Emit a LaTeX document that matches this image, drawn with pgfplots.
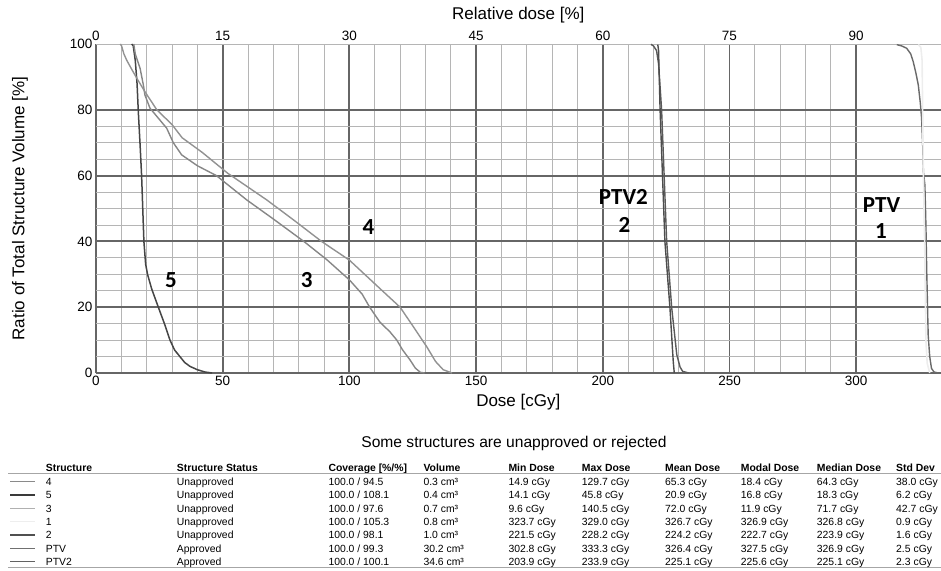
\documentclass[border=0pt]{standalone}
\usepackage{fontspec}
\setmainfont{Liberation Sans}
\newfontfamily\lblfont{Carlito}
\usepackage{pgfplots}
\pgfplotsset{compat=1.18}

\definecolor{majgrid}{HTML}{666666}
\definecolor{mingrid}{HTML}{B5B5B5}
\definecolor{cthree}{HTML}{929292}
\definecolor{cfour}{HTML}{878787}
\definecolor{cfive}{HTML}{454545}
\definecolor{ctwo}{HTML}{4D4D4D}
\definecolor{cptvtwo}{HTML}{5A5A5A}
\definecolor{cptv}{HTML}{6A6A6A}
\definecolor{cone}{HTML}{EDEDED}
% legend swatches in the table
\definecolor{lfour}{HTML}{8A8A8A}
\definecolor{lfive}{HTML}{3A3A3A}
\definecolor{lthree}{HTML}{B0B0B0}
\definecolor{lone}{HTML}{EEEEEE}
\definecolor{ltwo}{HTML}{505050}
\definecolor{lptv}{HTML}{707070}
\definecolor{lptvtwo}{HTML}{626262}

\begin{document}
\begin{tikzpicture}[x=1pt,y=1pt]
\useasboundingbox (0,0) rectangle (941,570);

% main DVH axis (dose in cGy)
\begin{axis}[
  at={(96pt,197pt)}, anchor=south west,
  scale only axis, width=844.6pt, height=329pt,
  xmin=0, xmax=333.3, ymin=0, ymax=100,
  xtick={0,50,...,300}, ytick={0,20,...,80},
  extra y ticks={100},
  extra y tick style={major grid style={mingrid, line width=0.9pt}},
  minor x tick num=4, minor y tick num=3,
  grid=both,
  major grid style={majgrid, line width=1.9pt},
  minor grid style={mingrid, line width=0.8pt},
  major tick length=0pt, minor tick length=0pt,
  axis line style={draw=none},
  tick label style={font=\fontsize{13.5}{15}\selectfont},
  /pgf/number format/assume math mode=true,
  xlabel={Dose [cGy]}, ylabel={Ratio of Total Structure Volume [\%]},
  label style={font=\fontsize{17}{20}\selectfont},
  xlabel style={at={(axis description cs:0.5,-0.087)}, anchor=center},
  ylabel style={at={(axis description cs:-0.09,0.5)}, anchor=center},
  clip=false,
]
% structure 5
\addplot[cfive, line width=1.5pt] coordinates {(14.1,100)(14.7,99.4)(15.5,95)(16.2,88)(16.7,79.4)(17.4,69.3)(18,60)(18.9,40)(19.6,33)(20.4,29.8)(22,25.5)(24.6,20)(27,15)(29.2,10)(31,7)(33.1,5)(35,3.2)(37.1,2)(40,1)(43,0.3)(45.8,0)};
% structure 4
\addplot[cfour, line width=1.4pt] coordinates {(14.9,100)(15.5,97)(17.4,92.6)(18.7,87.5)(19.3,84.5)(21.3,80.5)(27.9,74.4)(30.5,70)(33.8,66.3)(40,63)(47.5,60)(59.5,52.6)(70,46.8)(82,40)(91,34.5)(100,28.3)(105,24)(108,20)(112,15.5)(116,12.5)(118.7,10)(121,7)(123.9,4)(126,1.5)(128,0.2)(129.7,0)};
% structure 3
\addplot[cthree, line width=1.4pt] coordinates {(9.6,100)(10.1,99.4)(11,97)(12.1,95.1)(14.1,92.3)(16.1,89.6)(19.3,85.5)(24,80)(30,75.5)(34,71.5)(42,67)(52,60.7)(67.4,52.6)(78,46.5)(89,40)(100,34.3)(112,25.7)(120,20)(125.2,14.1)(130.5,8)(134,3.5)(137,1)(140.5,0)};
% PTV2
\addplot[cptvtwo, line width=1.4pt] coordinates {(219,99.9)(220,99.4)(221.2,98)(222,94)(223.2,80)(225.2,40)(227.2,19.7)(229.2,5.5)(230.5,1.8)(231.5,0.5)(233.9,0)};
% structure 2
\addplot[ctwo, line width=1.4pt] coordinates {(221.7,99.8)(222,98)(222.6,80)(224.5,40)(226.5,19.7)(227.8,3.4)(228.2,0)};
% PTV
\addplot[cptv, line width=1.4pt] coordinates {(316,99.8)(318,99.4)(319.9,98.7)(321.5,97)(322.5,94.6)(323.6,91)(324.5,87.5)(325.3,82)(325.8,77.4)(326.2,70)(326.5,61.2)(327.1,57.1)(327.5,45)(327.8,31.8)(328.2,18)(328.4,11.5)(329,5)(329.7,1.4)(330.7,0.3)(332.4,0)(333.3,0)};
% structure 1 (nearly white)
\addplot[cone, line width=1.6pt] coordinates {(324.5,99.8)(325.5,99)(326,95)(326.5,60)(327,40)(327.5,10)(328,3)(329,0)};

\begin{scope}[every node/.style={font=\lblfont\bfseries\fontsize{23}{23}\selectfont, inner sep=0pt}]
\node at (axis cs:29.6,28.3) {5};
\node at (axis cs:83.1,28.3) {3};
\node at (axis cs:107.5,44.5) {4};
\node at (axis cs:208.1,53.6) {PTV2};
\node at (axis cs:208.5,45) {2};
\node at (axis cs:310,51) {PTV};
\node at (axis cs:309.8,43) {1};
\end{scope}
\end{axis}

% top axis (relative dose)
\begin{axis}[
  at={(96pt,197pt)}, anchor=south west,
  scale only axis, width=844.6pt, height=329pt,
  xmin=0, xmax=100, ymin=0, ymax=100,
  axis x line*=top, axis y line=none,
  axis line style={draw=none},
  xtick={0,15,...,90}, major tick length=0pt,
  tick label style={font=\fontsize{13.5}{15}\selectfont},
  /pgf/number format/assume math mode=true,
  xlabel={Relative dose [\%]},
  label style={font=\fontsize{17}{20}\selectfont},
  xlabel style={at={(axis description cs:0.5,1.088)}, anchor=center},
]
\end{axis}

% table below the chart
\node[font=\fontsize{15.6}{18}\selectfont] at (514,126.7) {Some structures are unapproved or rejected};

\begin{scope}[every node/.style={anchor=base west, inner sep=0pt, font=\fontsize{10.4}{12}\selectfont\bfseries}]
\node at (45.7,98.6) {Structure};
\node at (176.7,98.6) {Structure Status};
\node at (328.3,98.6) {Coverage [\%/\%]};
\node at (423.3,98.6) {Volume};
\node at (508.3,98.6) {Min Dose};
\node at (581.7,98.6) {Max Dose};
\node at (665,98.6) {Mean Dose};
\node at (740.7,98.6) {Modal Dose};
\node at (816.7,98.6) {Median Dose};
\node at (896,98.6) {Std Dev};
\end{scope}
\draw[gray!70, line width=1.1pt] (8,96.3) -- (941,96.3);
\draw[gray!70, line width=1.1pt] (8,2.3) -- (941,2.3);

\foreach \yy/\cc/\ss/\st/\cv/\vo/\mn/\mx/\me/\mo/\md/\sd in {
  88.3/lfour/4/Unapproved/{100.0 / 94.5}/0.3/14.9/129.7/65.3/18.4/64.3/38.0,
  75/lfive/5/Unapproved/{100.0 / 108.1}/0.4/14.1/45.8/20.9/16.8/18.3/6.2,
  61.7/lthree/3/Unapproved/{100.0 / 97.6}/0.7/9.6/140.5/72.0/11.9/71.7/42.7,
  48.3/lone/1/Unapproved/{100.0 / 105.3}/0.8/323.7/329.0/326.7/326.9/326.8/0.9,
  35/ltwo/2/Unapproved/{100.0 / 98.1}/1.0/221.5/228.2/224.2/222.7/223.9/1.6,
  21.7/lptv/PTV/Approved/{100.0 / 99.3}/30.2/302.8/333.3/326.4/327.5/326.9/2.5,
  8.3/lptvtwo/PTV2/Approved/{100.0 / 100.1}/34.6/203.9/233.9/225.1/225.6/225.1/2.3}{
  \draw[\cc, line width=1.4pt] (10,\yy) -- (35,\yy);
  \begin{scope}[every node/.style={anchor=base west, inner sep=0pt, font=\fontsize{10.4}{12}\selectfont}]
  \node at (45.7,\yy-3.7) {\ss};
  \node at (176.7,\yy-3.7) {\st};
  \node at (328.3,\yy-3.7) {\cv};
  \node at (423.3,\yy-3.7) {\vo\ cm³};
  \node at (508.3,\yy-3.7) {\mn\ cGy};
  \node at (581.7,\yy-3.7) {\mx\ cGy};
  \node at (665,\yy-3.7) {\me\ cGy};
  \node at (740.7,\yy-3.7) {\mo\ cGy};
  \node at (816.7,\yy-3.7) {\md\ cGy};
  \node at (896,\yy-3.7) {\sd\ cGy};
  \end{scope}
}
\end{tikzpicture}
\end{document}
